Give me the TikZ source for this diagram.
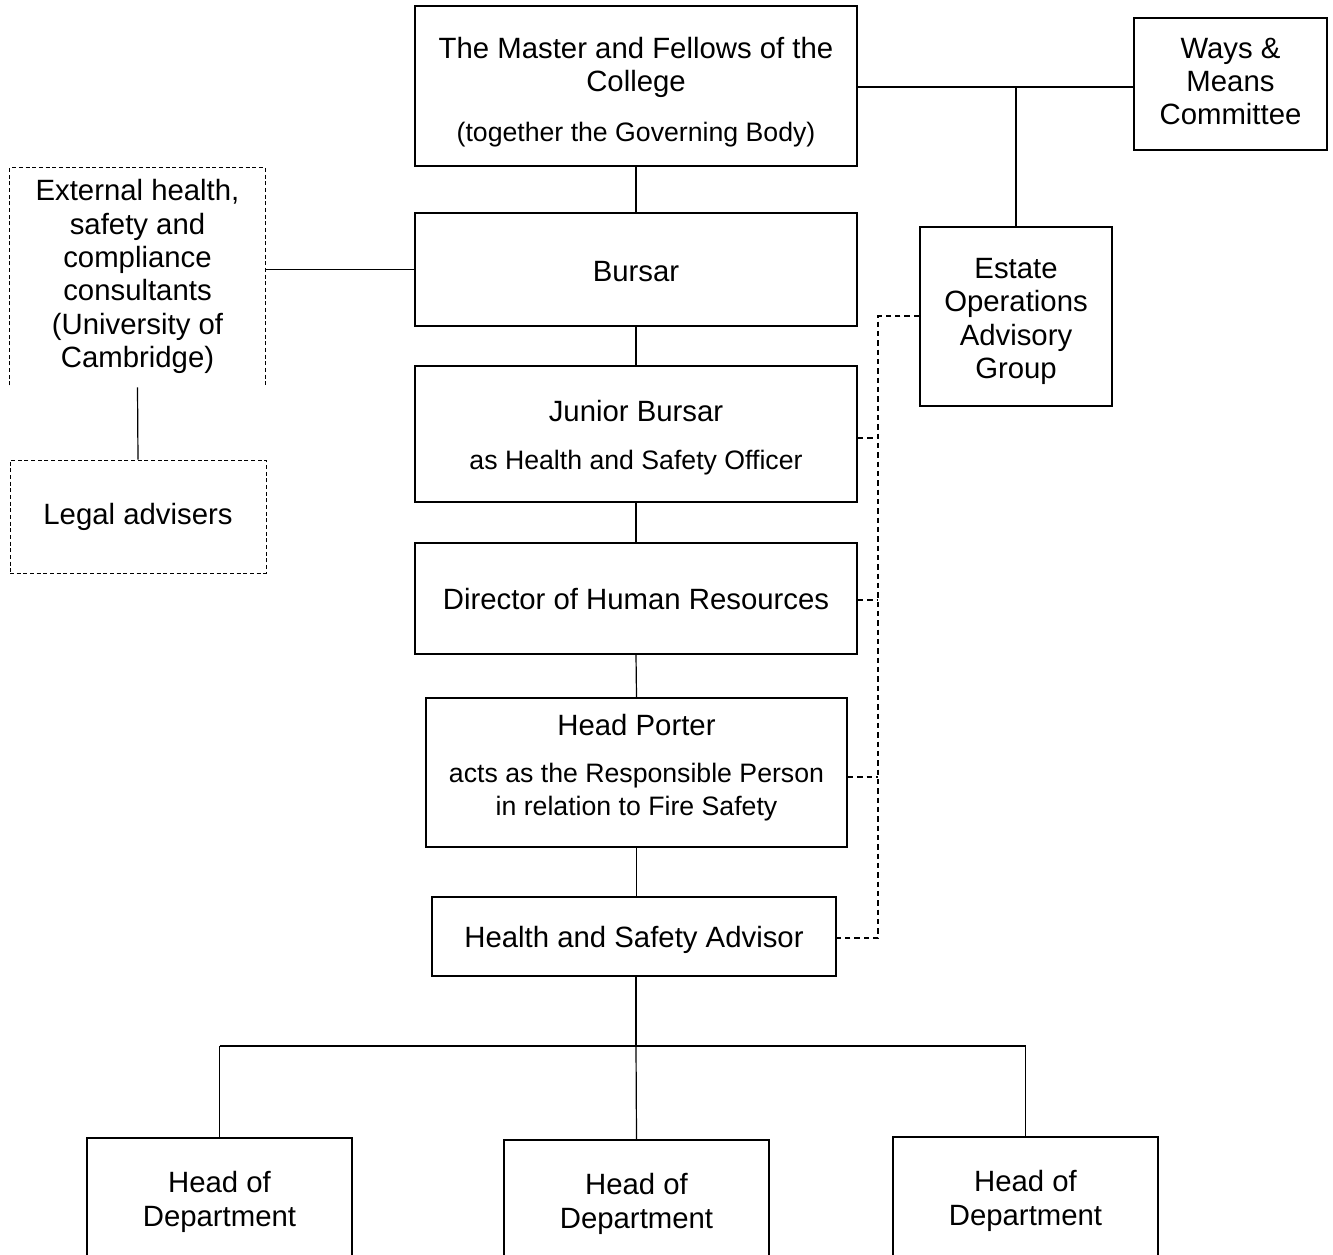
\documentclass[tikz,border=0pt]{standalone}
\usepackage{fontspec}
\setmainfont{Liberation Sans}
\newdimen\pxu \pxu=0.75pt
\newcommand{\bigtxt}{\fontsize{22}{25}\selectfont}
\newcommand{\smltxt}{\fontsize{20}{23}\selectfont}
\tikzset{
  box/.style={draw, line width=1.4pt, inner sep=0pt},
  txt/.style={align=center, inner sep=0pt, font=\bigtxt},
  dbox/.style={draw, densely dashed, line width=0.6pt, align=center, inner sep=0pt, font=\bigtxt},
  conn/.style={line width=0.9pt},
  dconn/.style={line width=0.8pt, dash pattern=on 4pt off 3pt},
}
\begin{document}
\begin{tikzpicture}[x=0.75pt,y=-0.75pt]
\useasboundingbox (0,0) rectangle (1333,1254);
\clip (0,0) rectangle (1333,1254);
% boxes
\node[box, minimum width=442\pxu, minimum height=160\pxu] (master) at (636,86) {};
\node[box, minimum width=193\pxu, minimum height=132\pxu] (ways) at (1230.5,84) {};
\node[box, minimum width=192\pxu, minimum height=179\pxu] (estate) at (1016,316.5) {};
\node[box, minimum width=442\pxu, minimum height=113\pxu] (bursar) at (636,269.5) {};
\node[txt, minimum width=255\pxu, minimum height=217\pxu] (ext) at (137.5,276.5)
  {External health,\\safety and\\compliance\\consultants\\(University of\\Cambridge)};
\node[dbox, minimum width=256\pxu, minimum height=113\pxu] (legal) at (138,516.5) {Legal advisers};
\node[box, minimum width=442\pxu, minimum height=136\pxu] (junior) at (636,434) {};
\node[box, minimum width=442\pxu, minimum height=111\pxu] (hr) at (636,598.5) {};
\node[box, minimum width=421\pxu, minimum height=149\pxu] (porter) at (636.5,772.5) {};
\node[box, minimum width=404\pxu, minimum height=79\pxu] (hsa) at (634,936.5) {};
\node[box, minimum width=265\pxu, minimum height=128\pxu] (hod1) at (219.5,1202) {};
\node[box, minimum width=265\pxu, minimum height=128\pxu] (hod2) at (636.5,1204) {};
\node[box, minimum width=265\pxu, minimum height=128\pxu] (hod3) at (1025.5,1201) {};
% texts
\node[txt] (tmaster) at ([yshift=-6\pxu]master.center)
  {The Master and Fellows of the\\College\\[12pt]{\smltxt (together the Governing Body)}};
\node[txt] (tways) at ([yshift=2.5\pxu]ways.center) {Ways \&\\Means\\Committee};
\node[txt] (testate) at ([yshift=-5\pxu]estate.center) {Estate\\Operations\\Advisory\\Group};
\node[txt] (tbursar) at ([yshift=-2\pxu]bursar.center) {Bursar};
\node[txt] (tjunior) at ([yshift=-4\pxu]junior.center) {Junior Bursar\\[11pt]{\smltxt as Health and Safety Officer}};
\node[txt] (thr) at (hr.center) {Director of Human Resources};
\node[txt] (tporter) at ([yshift=5\pxu]porter.center)
  {Head Porter\\[10pt]{\smltxt acts as the Responsible Person}\\{\smltxt in relation to Fire Safety}};
\node[txt] (thsa) at ([yshift=-3\pxu]hsa.center) {Health and Safety Advisor};
\node[txt] (thod1) at (hod1.center) {Head of\\Department};
\node[txt] (thod2) at (hod2.center) {Head of\\Department};
\node[txt] (thod3) at (hod3.center) {Head of\\Department};
% external open box
\draw[densely dashed, line width=0.6pt] (ext.south west) -- (ext.north west) -- (ext.north east) -- (ext.south east);
% connectors
\coordinate (wj) at (1016,87);
\draw[conn] (master.east |- wj) -- (ways.west |- wj);
\draw[conn] (wj) -- (estate.north);
\draw[conn] (master.south) -- (bursar.north);
\draw[conn] (bursar.south) -- (junior.north);
\draw[conn] (junior.south) -- (hr.north);
\draw[conn] (hr.south) -- (porter.north);
\draw[conn] (porter.south) -- (hsa.north -| porter.south);
\draw[conn] (ext.east |- bursar.west) -- (bursar.west);
\draw[conn] (ext.south) ++(0,2) -- (legal.north);
\coordinate (bus) at (636,1046);
\draw[conn] (hsa.south -| bus) -- (bus);
\draw[conn] (hod1.north |- bus) -- (hod3.north |- bus);
\draw[conn] (hod1.north |- bus) -- (hod1.north);
\draw[conn] (bus) -- (hod2.north);
\draw[conn] (hod3.north |- bus) -- (hod3.north);
% dashed advisory links
\coordinate (dtop) at (878,316);
\coordinate (dbot) at (878,938);
\draw[dconn] (estate.west |- dtop) -- (dtop) -- (dbot) -- (hsa.east |- dbot);
\draw[dconn] (junior.east |- 0,438) -- (878,438);
\draw[dconn] (hr.east |- 0,600) -- (878,600);
\draw[dconn] (porter.east |- 0,777) -- (878,777);
\end{tikzpicture}
\end{document}
